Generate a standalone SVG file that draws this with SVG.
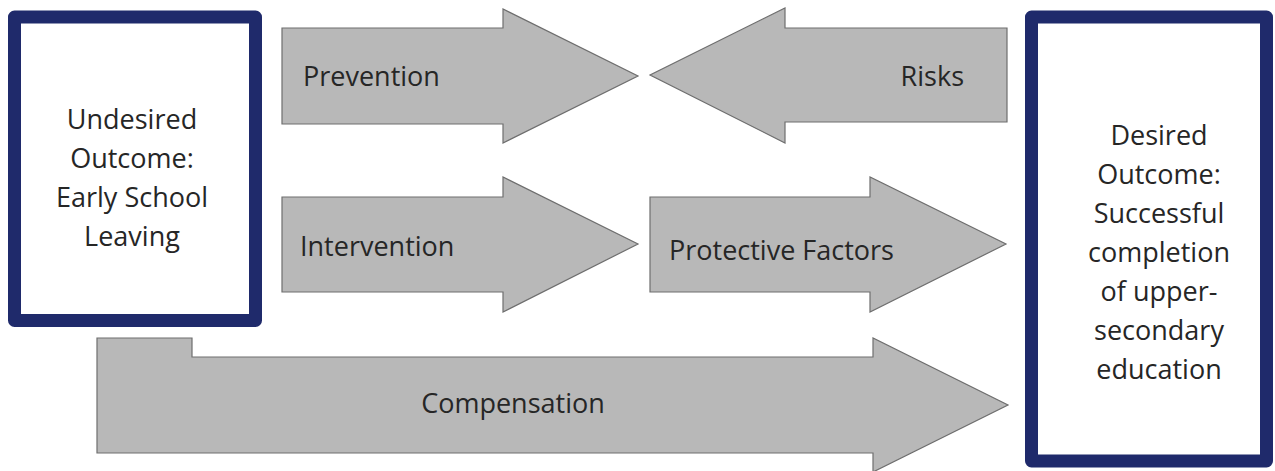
<svg xmlns="http://www.w3.org/2000/svg" width="1275" height="471" viewBox="0 0 1275 471">
<style>
.box{fill:#ffffff;stroke:#1f2a6b;stroke-width:13;stroke-linejoin:round}
.arr{fill:#b8b8b8;stroke:#6e6e6e;stroke-width:1.2;stroke-linejoin:miter}
text{font-family:"Open Sans","Liberation Sans",sans-serif;font-size:27px;fill:#262626}
.c{text-anchor:middle}
</style>
<rect width="1275" height="471" fill="#ffffff"/>
<g id="connectors">
<g id="prevention">
<path class="arr" d="M282,28 L503,28 L503,9 L638,76 L503,143 L503,124 L282,124 Z"/>
<text x="303" y="86">Prevention</text>
</g>
<g id="risks">
<path class="arr" d="M1007,28 L785,28 L785,8 L650,75 L785,143 L785,122 L1007,122 Z"/>
<text x="964" y="86" text-anchor="end">Risks</text>
</g>
<g id="intervention">
<path class="arr" d="M282,197 L503,197 L503,177 L638,244 L503,312 L503,292 L282,292 Z"/>
<text x="300" y="256">Intervention</text>
</g>
<g id="protective">
<path class="arr" d="M650,197 L870,197 L870,177 L1006,244 L870,312 L870,292 L650,292 Z"/>
<text x="669" y="260">Protective Factors</text>
</g>
<g id="compensation">
<path class="arr" d="M97,338 L192,338 L192,357 L873,357 L873,338 L1008,405 L873,472 L873,453 L97,453 Z"/>
<text x="513" y="413" class="c">Compensation</text>
</g>
</g>
<g id="undesired">
<rect class="box" x="14.5" y="17" width="241" height="303.5"/>
<text class="c" x="132" y="129">Undesired</text>
<text class="c" x="132" y="168">Outcome:</text>
<text class="c" x="132" y="207">Early School</text>
<text class="c" x="132" y="246">Leaving</text>
</g>
<g id="desired">
<rect class="box" x="1031.5" y="17" width="235" height="444"/>
<text class="c" x="1159" y="145">Desired</text>
<text class="c" x="1159" y="184">Outcome:</text>
<text class="c" x="1159" y="223">Successful</text>
<text class="c" x="1159" y="262">completion</text>
<text class="c" x="1159" y="301">of upper-</text>
<text class="c" x="1159" y="340">secondary</text>
<text class="c" x="1159" y="379">education</text>
</g>
</svg>
